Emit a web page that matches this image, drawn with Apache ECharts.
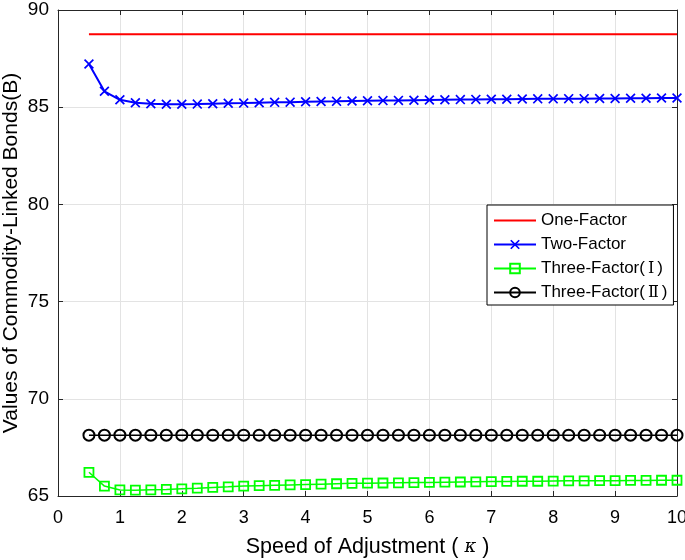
<!DOCTYPE html>
<html>
<head>
<meta charset="utf-8">
<script src="https://cdn.jsdelivr.net/npm/echarts@6/dist/echarts.min.js"></script>
<style>
html,body{margin:0;padding:0;background:#fff;}
#chart{width:685px;height:560px;}
</style>
</head>
<body>
<div id="chart"></div>
<script>
// Speed of adjustment (kappa)
var kappa = [0.5,0.75,1,1.25,1.5,1.75,2,2.25,2.5,2.75,3,3.25,3.5,3.75,4,4.25,4.5,4.75,5,5.25,5.5,5.75,6,6.25,6.5,6.75,7,7.25,7.5,7.75,8,8.25,8.5,8.75,9,9.25,9.5,9.75,10];
var oneFactor = [88.75,88.75,88.75,88.75,88.75,88.75,88.75,88.75,88.75,88.75,88.75,88.75,88.75,88.75,88.75,88.75,88.75,88.75,88.75,88.75,88.75,88.75,88.75,88.75,88.75,88.75,88.75,88.75,88.75,88.75,88.75,88.75,88.75,88.75,88.75,88.75,88.75,88.75,88.75];
var twoFactor = [87.22,85.82,85.38,85.23,85.18,85.15,85.15,85.16,85.18,85.20,85.21,85.23,85.25,85.26,85.28,85.29,85.30,85.32,85.33,85.34,85.35,85.36,85.37,85.38,85.39,85.40,85.41,85.41,85.42,85.43,85.43,85.44,85.44,85.45,85.45,85.46,85.46,85.47,85.47];
var threeFactorI = [66.22,65.51,65.31,65.30,65.32,65.34,65.37,65.40,65.44,65.47,65.51,65.53,65.55,65.57,65.59,65.61,65.63,65.65,65.66,65.67,65.68,65.69,65.70,65.71,65.72,65.73,65.74,65.75,65.76,65.76,65.77,65.78,65.78,65.79,65.79,65.80,65.80,65.81,65.81];
var threeFactorII = [68.13,68.13,68.13,68.13,68.13,68.13,68.13,68.13,68.13,68.13,68.13,68.13,68.13,68.13,68.13,68.13,68.13,68.13,68.13,68.13,68.13,68.13,68.13,68.13,68.13,68.13,68.13,68.13,68.13,68.13,68.13,68.13,68.13,68.13,68.13,68.13,68.13,68.13,68.13];
var seriesNames = ['One-Factor','Two-Factor','Three-Factor(Ⅰ)','Three-Factor(Ⅱ)'];
var xTicks = [0,1,2,3,4,5,6,7,8,9,10];
var yTicks = [65,70,75,80,85,90];

function pairs(ys){ return kappa.map(function(k,i){ return [k, ys[i]]; }); }

var FONT = '"Liberation Sans", Arial, sans-serif';
var ROMAN = '"DejaVu Serif", "Noto Sans CJK SC", serif';
var axisColor = '#262626';
var xMark = 'path://M0,1.2L1.2,0L5,3.8L8.8,0L10,1.2L6.2,5L10,8.8L8.8,10L5,6.2L1.2,10L0,8.8L3.8,5Z';

var chart = echarts.init(document.getElementById('chart'), null, {renderer:'canvas'});
var option = {
  animation: false,
  backgroundColor: '#fff',
  grid: {left: 58, right: 8, top: 10, bottom: 64, containLabel: false, outerBoundsMode: 'none'},
  xAxis: [{
    type: 'value', min: xTicks[0], max: xTicks[xTicks.length-1], interval: 1,
    name: 'Speed of Adjustment ( {k|κ} )',
    nameLocation: 'middle', nameGap: 40, nameMoveOverlap: false,
    nameTextStyle: {fontFamily: FONT, fontSize: 21.5, color: '#000', rich: {k: {fontFamily: '"DejaVu Serif", serif', fontStyle: 'italic', fontSize: 18, color: '#000'}}},
    axisLine: {show: true, lineStyle: {color: axisColor, width: 1}},
    axisTick: {show: true, inside: true, length: 5, lineStyle: {color: axisColor}},
    axisLabel: {fontFamily: FONT, fontSize: 18, color: '#000', margin: 13},
    splitLine: {show: true, lineStyle: {color: '#e3e3e3', width: 1}}
  },{
    type: 'value', position: 'top', min: 0, max: 10, interval: 1,
    axisLine: {show: true, onZero: false, lineStyle: {color: axisColor, width: 1}},
    axisTick: {show: true, inside: true, length: 5, lineStyle: {color: axisColor}},
    axisLabel: {show: false}, splitLine: {show: false}
  }],
  yAxis: [{
    type: 'value', min: yTicks[0], max: yTicks[yTicks.length-1], interval: 5,
    name: 'Values of Commodity-Linked Bonds(B)',
    nameLocation: 'middle', nameGap: 36, nameMoveOverlap: false,
    nameTextStyle: {fontFamily: FONT, fontSize: 21, color: '#000'},
    axisLine: {show: true, lineStyle: {color: axisColor, width: 1}},
    axisTick: {show: true, inside: true, length: 5, lineStyle: {color: axisColor}},
    axisLabel: {fontFamily: FONT, fontSize: 19, color: '#000', margin: 9},
    splitLine: {show: true, lineStyle: {color: '#e3e3e3', width: 1}}
  },{
    type: 'value', position: 'right', min: 65, max: 90, interval: 5,
    axisLine: {show: true, onZero: false, lineStyle: {color: axisColor, width: 1}},
    axisTick: {show: true, inside: true, length: 5, lineStyle: {color: axisColor}},
    axisLabel: {show: false}, splitLine: {show: false}
  }],
  legend: {
    orient: 'vertical', left: 487, top: 205,
    backgroundColor: '#fff', borderColor: '#000', borderWidth: 1,
    padding: [7, 6, 4, 6], itemGap: 7, itemWidth: 42, itemHeight: 12,
    textStyle: {fontFamily: FONT, fontSize: 17, color: '#000', lineHeight: 17,
      rich: {r: {fontFamily: ROMAN, fontSize: 16, color: '#000', lineHeight: 17, padding: [0, 3, 0, 3]}}},
    formatter: function(name){ return name.replace(/\(([ⅠⅡ])\)/, '({r|$1})'); },
    data: [
      {name: seriesNames[0], itemStyle: {color: 'rgba(0,0,0,0)', borderColor: 'rgba(0,0,0,0)', borderWidth: 0}},
      seriesNames[1], seriesNames[2], seriesNames[3]
    ]
  },
  series: [
    {name: seriesNames[0], type: 'line', data: pairs(oneFactor), symbol: 'none', showSymbol: false,
     lineStyle: {color: '#ff0000', width: 2}, itemStyle: {color: '#ff0000'}, z: 3},
    {name: seriesNames[1], type: 'line', data: pairs(twoFactor), symbol: xMark, symbolSize: 10,
     lineStyle: {color: '#0000ff', width: 2}, itemStyle: {color: '#0000ff'}, z: 4},
    {name: seriesNames[2], type: 'line', data: pairs(threeFactorI), symbol: 'rect', symbolSize: 9,
     lineStyle: {color: '#00ff00', width: 1.5}, itemStyle: {color: 'rgba(0,0,0,0)', borderColor: '#00ff00', borderWidth: 1.8}, z: 4},
    {name: seriesNames[3], type: 'line', data: pairs(threeFactorII), symbol: 'circle', symbolSize: 11,
     lineStyle: {color: '#000', width: 1.5}, itemStyle: {color: 'rgba(0,0,0,0)', borderColor: '#000', borderWidth: 2}, z: 4}
  ]
};
chart.setOption(option);
</script>
</body>
</html>
